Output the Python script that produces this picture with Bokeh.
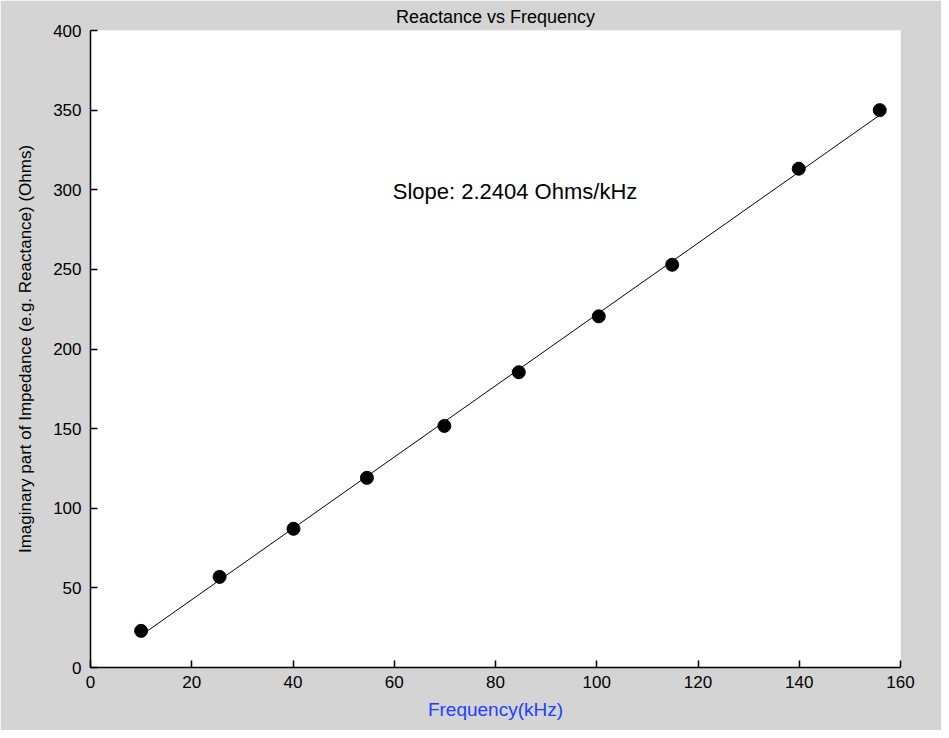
import numpy as np
from bokeh.plotting import figure
from bokeh.models import Range1d, Label, FixedTicker
from bokeh.embed import file_html
from bokeh.resources import INLINE

freq_khz = [10.0, 25.5, 40.1, 54.6, 69.9, 84.6, 100.4, 114.9, 139.9, 155.9]
reactance_ohms = [23.0, 56.9, 87.1, 119.1, 151.7, 185.4, 220.5, 252.9, 313.2, 350.0]
x_ticks = [0, 20, 40, 60, 80, 100, 120, 140, 160]
y_ticks = [0, 50, 100, 150, 200, 250, 300, 350, 400]
slope_label = "Slope: 2.2404 Ohms/kHz"

GRAY = "#d4d4d4"
FONT = "Liberation Sans"

p = figure(width=941, height=730, output_backend="svg", toolbar_location=None,
           x_range=Range1d(0, 160), y_range=Range1d(0, 400),
           min_border_left=90, min_border_right=41, min_border_top=29, min_border_bottom=63,
           title="Reactance vs Frequency")
p.border_fill_color = GRAY
p.background_fill_color = "white"
p.outline_line_color = None
p.xgrid.visible = False
p.ygrid.visible = False

p.title.align = "center"
p.title.text_font = FONT
p.title.text_font_size = "18px"
p.title.text_font_style = "normal"
p.title.text_color = "black"
p.title.standoff = 8

for ax, ticks in ((p.xaxis[0], x_ticks), (p.yaxis[0], y_ticks)):
    ax.ticker = FixedTicker(ticks=ticks)
    ax.major_tick_in = 7
    ax.major_tick_out = 0
    ax.minor_tick_in = 0
    ax.minor_tick_out = 0
    ax.axis_line_color = "black"
    ax.axis_line_width = 1.5
    ax.major_tick_line_color = "black"
    ax.major_tick_line_width = 1.5
    ax.major_label_text_font = FONT
    ax.major_label_text_font_size = "17px"
    ax.major_label_text_color = "black"
    ax.axis_label_text_font = FONT
    ax.axis_label_text_font_style = "normal"

p.xaxis.axis_label = "Frequency(kHz)"
p.xaxis.axis_label_text_color = "#2040ff"
p.xaxis.axis_label_text_font_size = "19px"
p.xaxis.major_label_standoff = 8
p.xaxis.axis_label_standoff = 8
p.yaxis.axis_label = "Imaginary part of Impedance (e.g. Reactance) (Ohms)"
p.yaxis.axis_label_text_color = "black"
p.yaxis.axis_label_text_font_size = "17px"
p.yaxis.major_label_standoff = 9
p.yaxis.axis_label_standoff = 15

# least-squares fit line through the data
coef = np.polyfit(freq_khz, reactance_ohms, 1)
fx = [min(freq_khz), max(freq_khz)]
fy = [coef[0] * v + coef[1] for v in fx]
p.line(fx, fy, line_color="black", line_width=1)

p.scatter(freq_khz, reactance_ohms, marker="circle", size=13,
          fill_color="black", line_color="black")

p.add_layout(Label(x=59.7, y=299, text=slope_label, text_font=FONT,
                   text_font_size="22px", text_color="black",
                   text_baseline="middle", text_align="left"))

open("out.html", "w").write(file_html(p, INLINE))
